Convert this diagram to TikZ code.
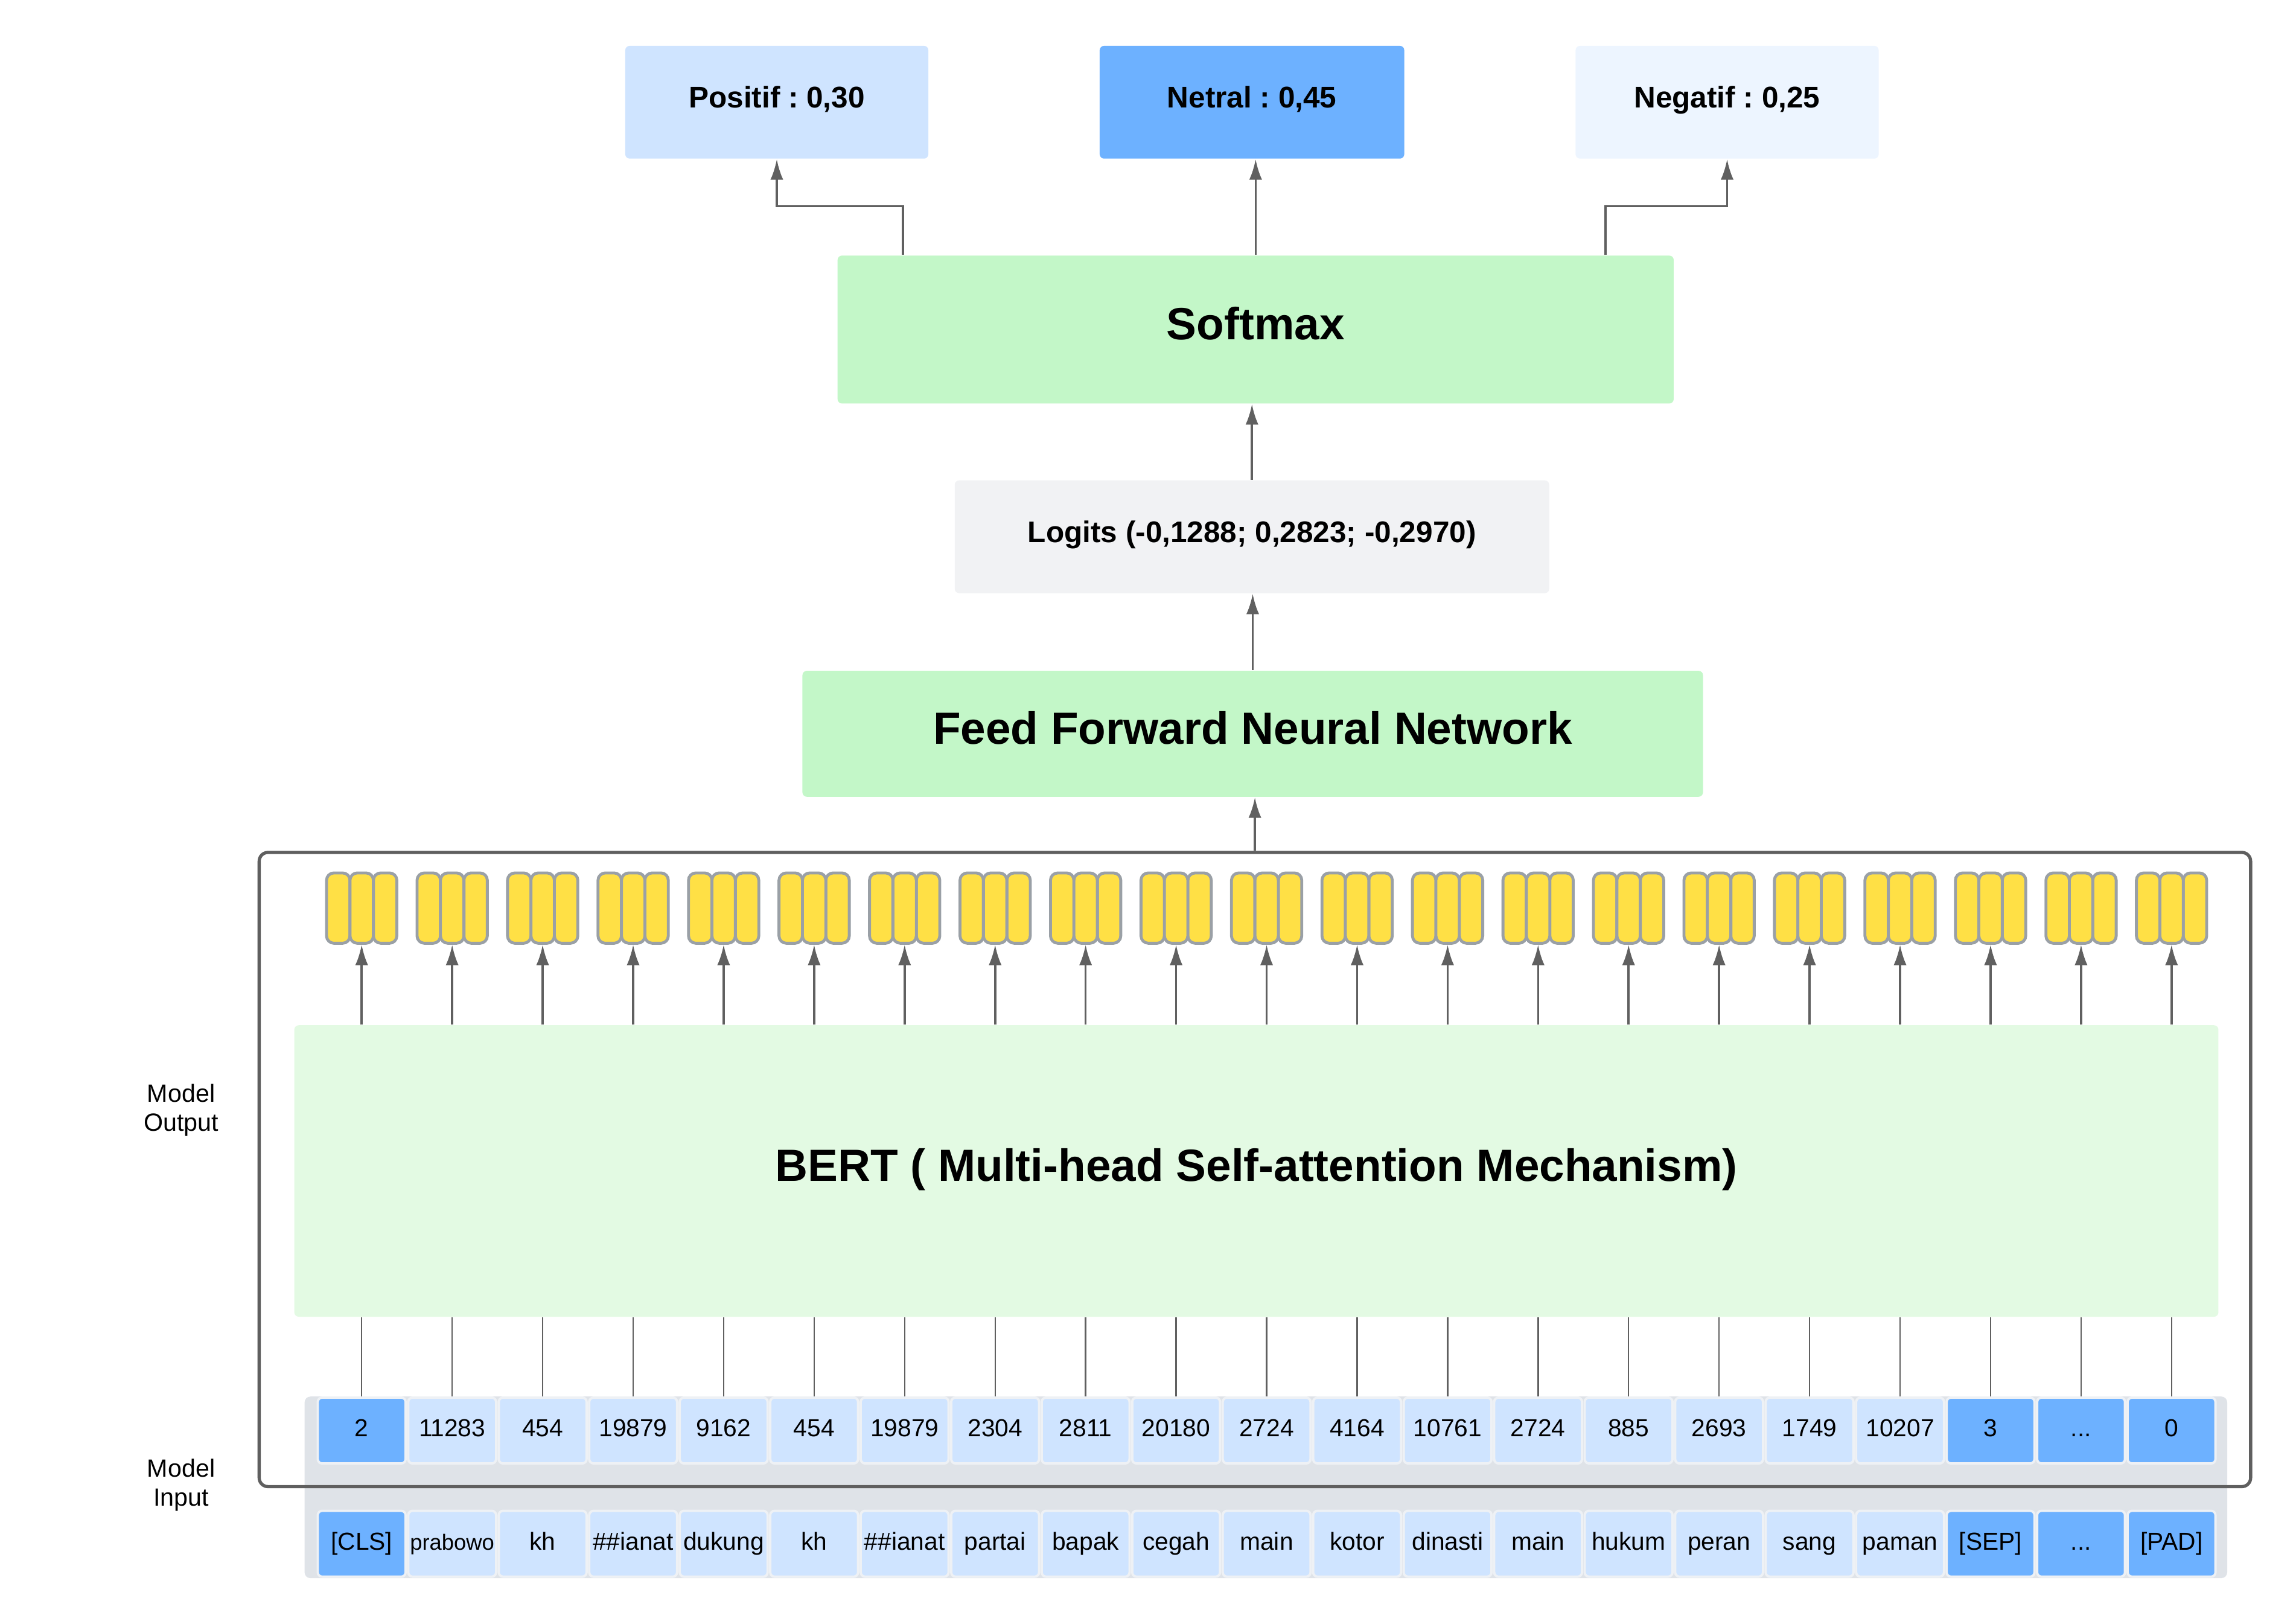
\documentclass[tikz,border=0pt]{standalone}
\usepackage{fontspec}
\setmainfont{Liberation Sans}
\usetikzlibrary{arrows.meta,calc}

\definecolor{posblue}{HTML}{CFE4FF}
\definecolor{hiblue}{HTML}{6DB1FF}
\definecolor{paleblue}{HTML}{EDF5FF}
\definecolor{mintgreen}{HTML}{C3F7C8}
\definecolor{bertgreen}{HTML}{E3FAE3}
\definecolor{logitgray}{HTML}{F1F2F4}
\definecolor{stripgray}{HTML}{DFE3E8}
\definecolor{cellrim}{HTML}{EEF1F5}
\definecolor{vecyellow}{HTML}{FFE045}
\definecolor{bargray}{HTML}{9AA0A6}
\definecolor{linegray}{HTML}{606060}
\definecolor{framegray}{HTML}{5F5F5F}

% three dots, kept out of the foreach lists
\newcommand{\tokdots}{...}

\tikzset{
  box/.style={rectangle, rounded corners=1.5pt, inner sep=0pt, align=center},
  bigtext/.style={font=\bfseries\fontsize{15.4}{18}\selectfont, text height=11pt, text depth=4pt},
  midtext/.style={font=\bfseries\fontsize{10.2}{12}\selectfont, text height=7.5pt, text depth=3.7pt},
  cell/.style={box, fill=posblue, draw=cellrim, line width=0.8pt,
    minimum width=30pt, minimum height=22.5pt, font=\fontsize{8.4}{10}\selectfont,
    text height=6.3pt, text depth=2pt},
  hicell/.style={cell, fill=hiblue},
  bar/.style={rectangle, rounded corners=2.5pt, fill=vecyellow, draw=bargray,
    line width=1pt, minimum width=8pt, minimum height=24pt, inner sep=0pt},
  conn/.style={draw=linegray, line width=0.75pt, -{Latex[length=7pt,width=4.4pt]}},
  thinline/.style={draw=linegray, line width=0.5pt},
}

\begin{document}
\frenchspacing
\begin{tikzpicture}[x=0.5pt,y=-0.5pt]
    \useasboundingbox (0,0) rectangle (1568,1108.4);

    % the three classes
    \node[box, midtext, fill=posblue, minimum width=103.5pt, minimum height=38.5pt] (pos) at (530.5,69.8) {Positif : 0,30};
    \node[box, midtext, fill=hiblue, minimum width=104pt, minimum height=38.5pt] (net) at (855,69.8) {Netral : 0,45};
    \node[box, midtext, fill=paleblue, minimum width=103.5pt, minimum height=38.5pt] (neg) at (1179.5,69.8) {Negatif : 0,25};

    % softmax, logits and the classifier head
    \node[box, bigtext, fill=mintgreen, minimum width=285.5pt, minimum height=50.5pt] (softmax) at (857.5,225) {Softmax};
    \node[box, midtext, fill=logitgray, minimum width=203pt, minimum height=38.5pt] (logits) at (855,366.5) {Logits (-0,1288; 0,2823; -0,2970)};
    \node[box, bigtext, fill=mintgreen, minimum width=307.5pt, minimum height=43pt] (ffnn) at (855.5,501) {Feed Forward Neural Network};

    % the input strip and the model frame
    \node[box, fill=stripgray, rounded corners=2pt, minimum width=656.5pt, minimum height=62pt] (strip) at (864.5,1015.5) {};
    \node[box, draw=framegray, line width=1.1pt, rounded corners=3pt, minimum width=680pt, minimum height=216.5pt] (frame) at (857,798.5) {};

    % the encoder
    \node[box, bigtext, fill=bertgreen, minimum width=657pt, minimum height=99.5pt] (bert) at (858,799.5) {BERT ( Multi-head Self-attention Mechanism)};

    % connectors of the head
    \draw[conn] ([xshift=22.5pt]softmax.north west) -- ++(0,-33.4) -| (pos.south);
    \draw[conn] (softmax.north) -- (softmax.north |- net.south);
    \draw[conn] ([xshift=-23.5pt]softmax.north east) -- ++(0,-33.4) -| (neg.south);
    \draw[conn] (logits.north) -- (logits.north |- softmax.south);
    \draw[conn] (ffnn.north) -- (ffnn.north |- logits.south);
    \draw[conn] (frame.north) -- (frame.north |- ffnn.south);

    % output vectors of the encoder
    \foreach \i in {0,...,20} {
      \node[bar] at ({247+61.8*\i-16},620) {};
      \node[bar] at ({247+61.8*\i+16},620) {};
      \node[bar] (vec\i) at ({247+61.8*\i},620) {};
      \draw[conn] (bert.north -| vec\i.south) -- (vec\i.south);
    }

    % token ids
    \foreach \i/\num/\sty in {
      0/2/hicell, 1/11283/cell, 2/454/cell, 3/19879/cell, 4/9162/cell,
      5/454/cell, 6/19879/cell, 7/2304/cell, 8/2811/cell, 9/20180/cell,
      10/2724/cell, 11/4164/cell, 12/10761/cell, 13/2724/cell, 14/885/cell,
      15/2693/cell, 16/1749/cell, 17/10207/cell, 18/3/hicell, 19/\tokdots/hicell,
      20/0/hicell} {
      \node[\sty] (num\i) at ({247+61.8*\i},976.7) {\num};
      \draw[thinline] (num\i.north) -- (num\i.north |- bert.south);
    }

    % tokens
    \foreach \i/\tok/\sty in {
      0/[CLS]/hicell, 1/{\fontsize{7.5}{9}\selectfont prabowo}/cell, 2/kh/cell,
      3/\#\#ianat/cell, 4/dukung/cell, 5/kh/cell, 6/\#\#ianat/cell,
      7/partai/cell, 8/bapak/cell, 9/cegah/cell, 10/main/cell, 11/kotor/cell,
      12/dinasti/cell, 13/main/cell, 14/hukum/cell, 15/peran/cell,
      16/sang/cell, 17/paman/cell, 18/[SEP]/hicell, 19/\tokdots/hicell,
      20/[PAD]/hicell}
    \node[\sty] (tok\i) at ({247+61.8*\i},1054) {\tok};

    % side labels
    \node[align=center, font=\fontsize{8.5}{10}\selectfont] (outlabel) at (123.7,758) {Model\\Output};
    \node[align=center, font=\fontsize{8.5}{10}\selectfont] (inlabel) at (123.7,1014) {Model\\Input};
\end{tikzpicture}
\end{document}
